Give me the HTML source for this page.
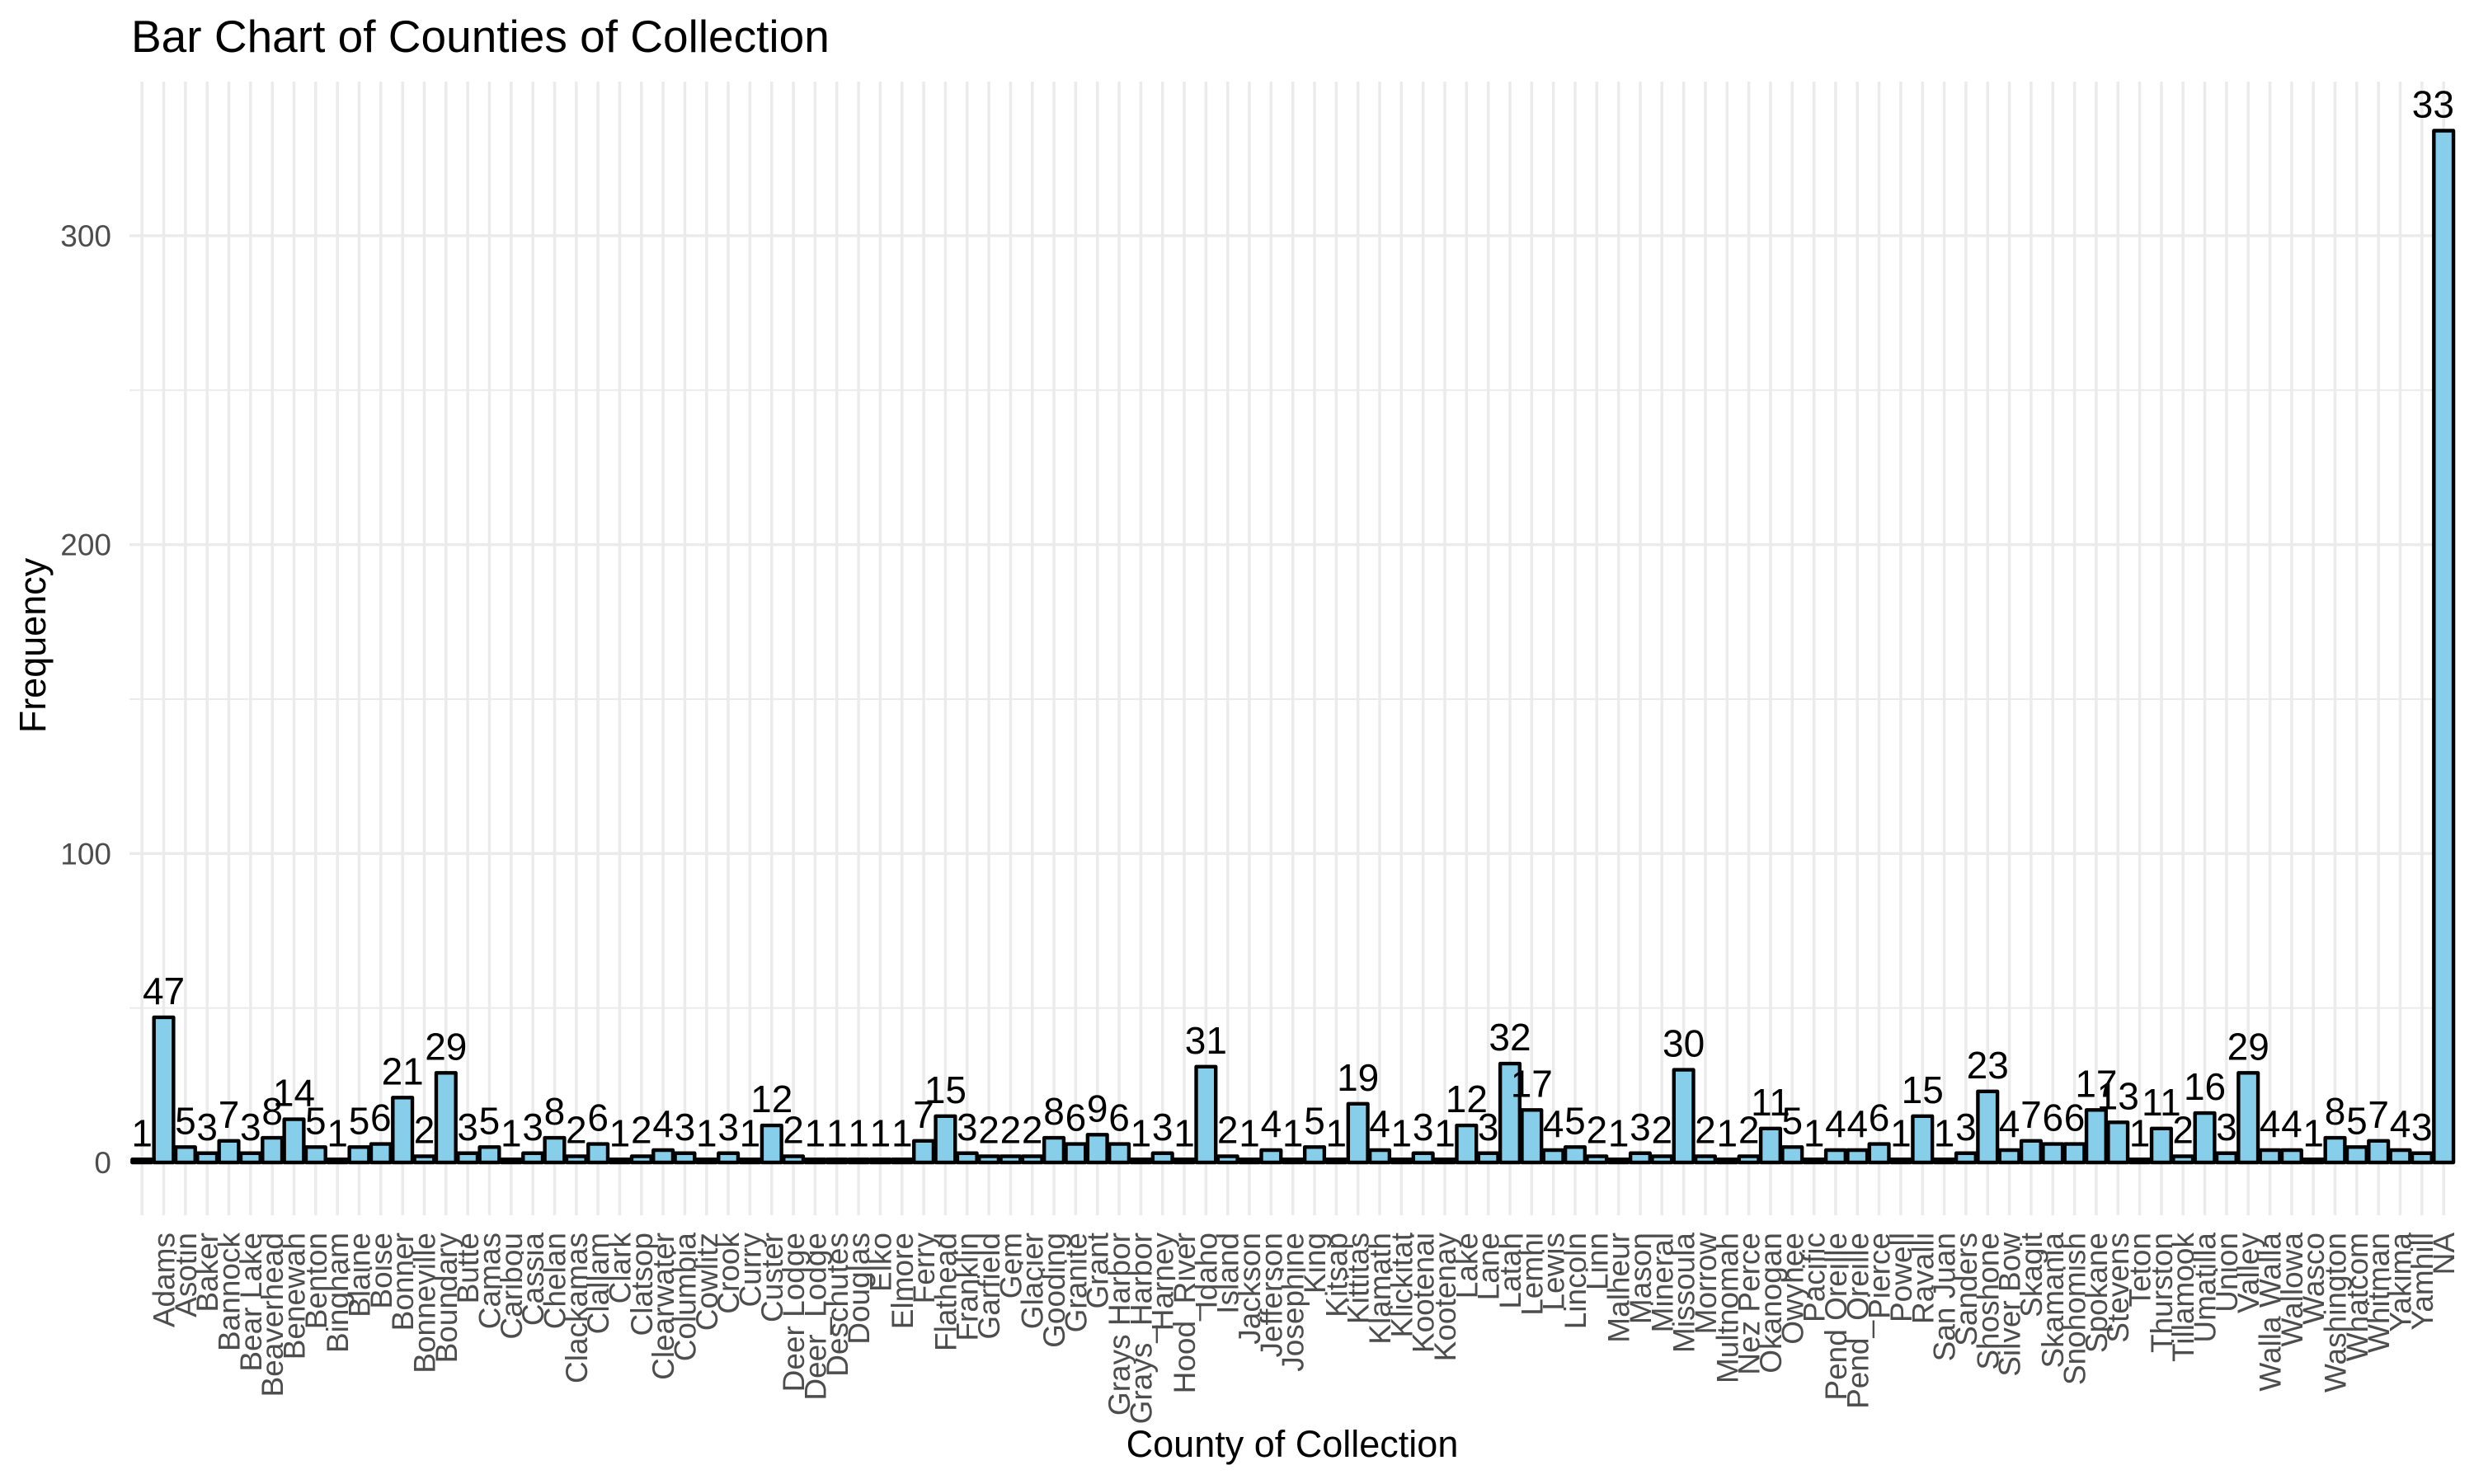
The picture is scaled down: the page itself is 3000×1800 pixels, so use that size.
<!DOCTYPE html>
<html><head><meta charset="utf-8"><style>
html,body{margin:0;padding:0;background:#fff}
svg{display:block;font-family:"Liberation Sans",Arial,sans-serif}
</style></head><body>
<svg id="chart" width="3000" height="1800" viewBox="0 0 3000 1800" xmlns="http://www.w3.org/2000/svg">
<defs><clipPath id="panelClip"><rect x="157" y="60" width="2820" height="1414"/></clipPath></defs>
<text x="159" y="63" font-size="55" fill="#000">Bar Chart of Counties of Collection</text>
<text transform="translate(55,783) rotate(-90)" text-anchor="middle" font-size="45" fill="#000">Frequency</text>
<text x="1567" y="1767" text-anchor="middle" font-size="45" fill="#000">County of Collection</text>
<g id="grid"></g>
<g id="yticks"></g>
<g id="bars"></g>
<g id="vlabels" clip-path="url(#panelClip)"></g>
<g id="xticks"></g>
</svg>
<script>
const categories = ["","Adams","Asotin","Baker","Bannock","Bear Lake","Beaverhead","Benewah","Benton","Bingham","Blaine","Boise","Bonner","Bonneville","Boundary","Butte","Camas","Caribou","Cassia","Chelan","Clackamas","Clallam","Clark","Clatsop","Clearwater","Columbia","Cowlitz","Crook","Curry","Custer","Deer Lodge","Deer_Lodge","Deschutes","Douglas","Elko","Elmore","Ferry","Flathead","Franklin","Garfield","Gem","Glacier","Gooding","Granite","Grant","Grays Harbor","Grays_Harbor","Harney","Hood_River","Idaho","Island","Jackson","Jefferson","Josephine","King","Kitsap","Kittitas","Klamath","Klickitat","Kootenai","Kootenay","Lake","Lane","Latah","Lemhi","Lewis","Lincoln","Linn","Malheur","Mason","Mineral","Missoula","Morrow","Multnomah","Nez Perce","Okanogan","Owyhee","Pacific","Pend Oreille","Pend_Oreille","Pierce","Powell","Ravalli","San Juan","Sanders","Shoshone","Silver Bow","Skagit","Skamania","Snohomish","Spokane","Stevens","Teton","Thurston","Tillamook","Umatilla","Union","Valley","Walla Walla","Wallowa","Wasco","Washington","Whatcom","Whitman","Yakima","Yamhill","NA"];
const counts = [1,47,5,3,7,3,8,14,5,1,5,6,21,2,29,3,5,1,3,8,2,6,1,2,4,3,1,3,1,12,2,1,1,1,1,1,7,15,3,2,2,2,8,6,9,6,1,3,1,31,2,1,4,1,5,1,19,4,1,3,1,12,3,32,17,4,5,2,1,3,2,30,2,1,2,11,5,1,4,4,6,1,15,1,3,23,4,7,6,6,17,13,1,11,2,16,3,29,4,4,1,8,5,7,4,3,334];
const yTicks = [0,100,200,300];
const yMinor = [50,150,250];

const NS = "http://www.w3.org/2000/svg";
const PL = 157, PR = 2977, PT = 99, PB = 1474;
const X0 = 172.2, STEP = 26.33;
const Y0 = 1410, PXU = 3.747;
function xs(i){ return X0 + i*STEP; }
function ys(v){ return Y0 - v*PXU; }
function mk(tag, attrs, parent){ const e=document.createElementNS(NS,tag); for(const k in attrs) e.setAttribute(k,attrs[k]); parent.appendChild(e); return e; }

const grid = document.getElementById('grid');
yMinor.forEach(v=>{
  const l = mk('line',{x1:PL,x2:PR,y1:ys(v),y2:ys(v),stroke:'#ebebeb','stroke-width':2},grid);
  
  
});
yTicks.forEach(v=>{
  const l = mk('line',{x1:PL,x2:PR,y1:ys(v),y2:ys(v),stroke:'#ebebeb','stroke-width':3.5},grid);
  
  
});
categories.forEach((c,i)=>{
  const l = mk('line',{x1:xs(i),x2:xs(i),y1:PT,y2:PB,stroke:'#ebebeb','stroke-width':3.5},grid);
  
  
});

const yt = document.getElementById('yticks');
yTicks.forEach(v=>{
  const t = mk('text',{x:135,y:ys(v)+13,'text-anchor':'end','font-size':37,fill:'#4d4d4d'},yt);
  t.textContent = v;
  
  
});

const bars = document.getElementById('bars');
const vl = document.getElementById('vlabels');
const xt = document.getElementById('xticks');
const BW = 23.7;
counts.forEach((v,i)=>{
  const r = mk('rect',{x:xs(i)-BW/2,y:ys(v),width:BW,height:v*PXU,fill:'#87ceeb',stroke:'#000','stroke-width':4.4,'stroke-linejoin':'round'},bars);
  
  
  const t = mk('text',{x:xs(i),y:ys(v)-16,'text-anchor':'middle','font-size':46,fill:'#000'},vl);
  t.textContent = v;
  
  
});
categories.forEach((c,i)=>{
  const t = mk('text',{transform:'translate('+(xs(i)+13)+',1495) rotate(-90)','text-anchor':'end','font-size':37,fill:'#4d4d4d'},xt);
  t.textContent = c;
  
  
});
</script>
</body></html>
